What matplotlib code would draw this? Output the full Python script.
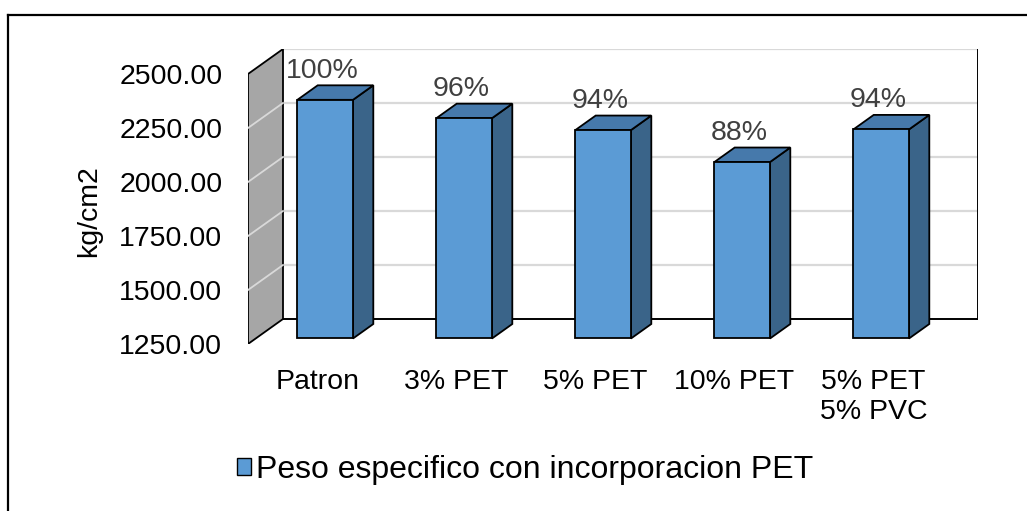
import matplotlib
matplotlib.use("Agg")
import matplotlib.pyplot as plt
from matplotlib.patches import Polygon, Patch
from matplotlib.lines import Line2D
from matplotlib.ticker import FormatStrFormatter

# ---- data ----
categories = ["Patron", "3% PET", "5% PET", "10% PET", "5% PET\n5% PVC"]
values = [2355, 2270, 2215, 2067, 2218]
pct_labels = ["100%", "96%", "94%", "88%", "94%"]
series_name = "Peso especifico con incorporacion PET"
y_ticks = [1250, 1500, 1750, 2000, 2250, 2500]
y_label = "kg/cm2"

# ---- style ----
plt.rcParams['font.family'] = ['Liberation Sans', 'DejaVu Sans']
FS = 20.5
FS_LEG = 23
FRONT = "#5B9BD5"
SIDE = "#3A6489"
TOP = "#4679AB"
WALL = "#A6A6A6"
GRID = "#D9D9D9"

W, H = 1027, 511
fig = plt.figure(figsize=(W / 100, H / 100), dpi=100)

# oblique projection constants (pixels)
px_cat = 139.0
px_val = 270.0 / 1250.0
depth_px_x, depth_px_y = 35.0, 25.0
DX = depth_px_x / px_cat          # depth offset in category units
DY = depth_px_y / px_val          # depth offset in value units
ymin, ymax = y_ticks[0], y_ticks[-1]
n = len(categories)

left_px, bottom_px = 248, 344
ax_w = (n + DX) * px_cat
ax_h = (ymax - ymin + DY) * px_val
ax = fig.add_axes([left_px / W, 1 - bottom_px / H, ax_w / W, ax_h / H])
ax.set_xlim(-0.5, n - 0.5 + DX)
ax.set_ylim(ymin, ymax + DY)
for s in ax.spines.values():
    s.set_visible(False)
ax.set_facecolor("none")

# left wall
xl = -0.5
ax.add_patch(Polygon([(xl, ymin), (xl + DX, ymin + DY), (xl + DX, ymax + DY), (xl, ymax)],
                     closed=True, facecolor=WALL, edgecolor="black", lw=1.3, zorder=2))
for t in y_ticks[1:-1]:
    ax.plot([xl, xl + DX], [t, t + DY], color=GRID, lw=1.3, zorder=3)
# back wall gridlines
xr = n - 0.5
for t in y_ticks[1:]:
    ax.plot([xl + DX, xr + DX], [t + DY, t + DY], color=GRID, lw=1.6, zorder=1)
# back floor line and right edge
ax.plot([xl + DX, xr + DX], [ymin + DY, ymin + DY], color="black", lw=1.4, zorder=1.5)
ax.plot([xr + DX, xr + DX], [ymin + DY, ymax + DY], color="black", lw=1.4, zorder=1.5)

# bars
hw = 0.2
z0, z1 = 0.22, 0.80
for i, v in enumerate(values):
    x0, x1 = i - hw, i + hw
    fx0, fx1 = x0 + z0 * DX, x1 + z0 * DX
    bx0, bx1 = x0 + z1 * DX, x1 + z1 * DX
    fb, ft = ymin + z0 * DY, v + z0 * DY
    bb, bt = ymin + z1 * DY, v + z1 * DY
    kw = dict(closed=True, edgecolor="black", lw=1.3, joinstyle="miter", zorder=5, clip_on=False)
    ax.add_patch(Polygon([(fx1, fb), (bx1, bb), (bx1, bt), (fx1, ft)], facecolor=SIDE, **kw))
    ax.add_patch(Polygon([(fx0, ft), (fx1, ft), (bx1, bt), (bx0, bt)], facecolor=TOP, **kw))
    ax.add_patch(Polygon([(fx0, fb), (fx1, fb), (fx1, ft), (fx0, ft)], facecolor=FRONT, **kw))
    ax.annotate(pct_labels[i], xy=(i + z0 * DX, ft), xytext=(-3, 29), textcoords="offset pixels",
                ha="center", va="center", fontsize=FS, color="#404040", zorder=6)

# axes ticks
ax.set_yticks(y_ticks)
ax.yaxis.set_major_formatter(FormatStrFormatter("%.2f"))
ax.set_xticks(range(n))
ax.set_xticklabels(categories)
ax.tick_params(axis="y", length=0, pad=18.5, labelsize=FS, colors="black")
ax.tick_params(axis="x", length=0, pad=18, labelsize=FS, colors="black")
for lab in ax.get_xticklabels():
    lab.set_linespacing(1.2)

fig.text(89 / W, 1 - 211 / H, y_label, rotation=90, ha="center", va="center", fontsize=FS)

# legend
fig.legend(handles=[Patch(facecolor=FRONT, edgecolor="black", lw=1.0)], labels=[series_name],
           loc="center", bbox_to_anchor=(525 / W, 1 - 470 / H), frameon=False, fontsize=FS_LEG,
           handlelength=0.45, handleheight=0.45, handletextpad=0.15, borderpad=0)

# outer frame (top and left)
fig.add_artist(Line2D([8 / W, 1], [1 - 15 / H, 1 - 15 / H], transform=fig.transFigure, color="black", lw=1.6))
fig.add_artist(Line2D([8 / W, 8 / W], [0, 1 - 15 / H], transform=fig.transFigure, color="black", lw=1.6))

fig.savefig("out.png", dpi=100)
